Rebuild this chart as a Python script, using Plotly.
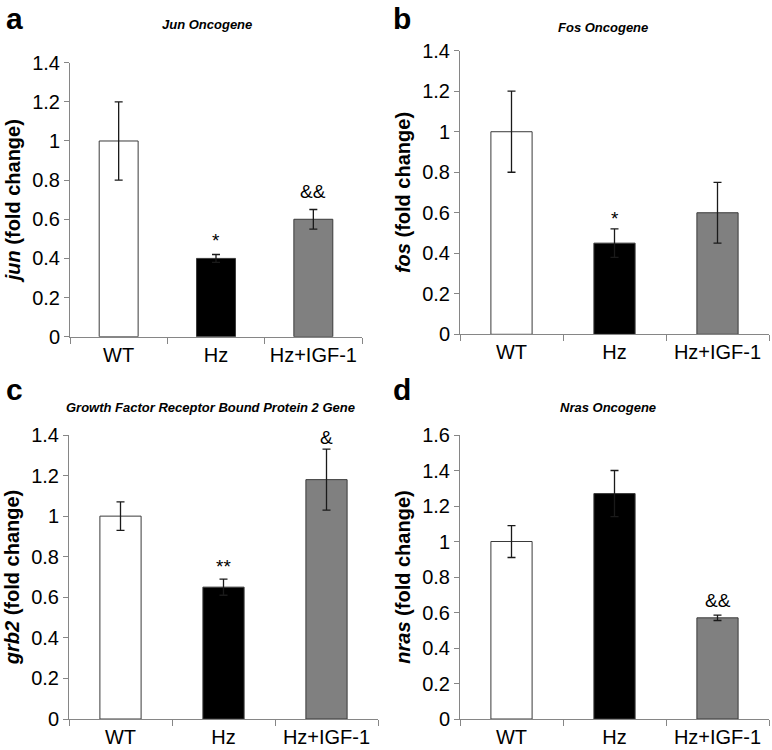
import plotly.graph_objects as go
from plotly.subplots import make_subplots

categories = ["WT", "Hz", "Hz+IGF-1"]
bar_colors = ["#ffffff", "#000000", "#808080"]

panel_letters = ["a", "b", "c", "d"]
panel_titles = ["Jun Oncogene", "Fos Oncogene",
                "Growth Factor Receptor Bound Protein 2 Gene", "Nras Oncogene"]
gene_names = ["jun", "fos", "grb2", "nras"]

jun_values = [1.0, 0.40, 0.60]
jun_errors = [0.20, 0.02, 0.05]
jun_marks = ["", "*", "&&"]
jun_mark_y = [None, 0.49, 0.74]

fos_values = [1.0, 0.45, 0.60]
fos_errors = [0.20, 0.07, 0.15]
fos_marks = ["", "*", ""]
fos_mark_y = [None, 0.57, None]

grb2_values = [1.0, 0.65, 1.18]
grb2_errors = [0.07, 0.04, 0.15]
grb2_marks = ["", "**", "&"]
grb2_mark_y = [None, 0.75, 1.39]

nras_values = [1.0, 1.27, 0.57]
nras_errors = [0.09, 0.13, 0.015]
nras_marks = ["", "", "&&"]
nras_mark_y = [None, None, 0.67]

y_max = [1.4, 1.4, 1.4, 1.6]

values = [jun_values, fos_values, grb2_values, nras_values]
errors = [jun_errors, fos_errors, grb2_errors, nras_errors]
marks = [jun_marks, fos_marks, grb2_marks, nras_marks]
mark_y = [jun_mark_y, fos_mark_y, grb2_mark_y, nras_mark_y]

W, H = 772, 750
# plot-area pixel boxes (left, right, top, bottom)
boxes = [(70, 362, 62.7, 336.7), (460, 769, 50.7, 334.3),
         (69, 378, 435, 719), (460, 769, 435, 719)]
title_pos = [(207, 24), (603, 28), (210, 407), (608, 407)]
# letter box top-left positions
letter_pos = [(4, 0), (391, 0), (4, 371), (391, 371)]

FONT = "Liberation Sans, Arial, sans-serif"
AXIS_COL = "#868686"

fig = make_subplots(rows=2, cols=2)
annotations = []
for i in range(4):
    r, c = i // 2 + 1, i % 2 + 1
    fig.add_trace(go.Bar(
        x=categories, y=values[i], width=0.4,
        marker=dict(color=bar_colors, line=dict(color="#3a3a3a", width=1)),
        error_y=dict(type="data", array=errors[i], color="#1a1a1a",
                     thickness=1.3, width=4),
        showlegend=False), row=r, col=c)
    l, rr, t, b = boxes[i]
    xa = "xaxis" if i == 0 else f"xaxis{i+1}"
    ya = "yaxis" if i == 0 else f"yaxis{i+1}"
    fig.layout[xa].update(domain=[l / W, rr / W])
    fig.layout[ya].update(domain=[1 - b / H, 1 - t / H])
    fig.update_xaxes(row=r, col=c, showline=True, linecolor=AXIS_COL, linewidth=1,
                     ticks="outside", tickson="boundaries", ticklen=6,
                     tickcolor=AXIS_COL, showgrid=False, automargin=False,
                     tickfont=dict(family=FONT, size=20, color="#000"),
                     range=[-0.5, 2.5])
    fig.update_yaxes(row=r, col=c, showline=True, linecolor=AXIS_COL, linewidth=1,
                     ticks="outside", ticklen=5, tickcolor=AXIS_COL,
                     showgrid=False, zeroline=False, automargin=False,
                     range=[0, y_max[i]], dtick=0.2, tickformat="~g",
                     tickfont=dict(family=FONT, size=20, color="#000"),
                     title=dict(text=f"<b><i>{gene_names[i]}</i> (fold change)</b>",
                                font=dict(family=FONT, size=20, color="#000"),
                                standoff=6))
    xr = "x" if i == 0 else f"x{i+1}"
    yr = "y" if i == 0 else f"y{i+1}"
    for j, m in enumerate(marks[i]):
        if m:
            annotations.append(dict(x=categories[j], y=mark_y[i][j], xref=xr, yref=yr,
                                    text=m, showarrow=False,
                                    font=dict(family=FONT, size=19, color="#000")))
    tx, ty = title_pos[i]
    annotations.append(dict(x=tx / W, y=1 - ty / H, xref="paper", yref="paper",
                            text=f"<b><i>{panel_titles[i]}</i></b>", showarrow=False,
                            xanchor="center", yanchor="middle",
                            font=dict(family=FONT, size=13, color="#000")))
    lx, ly = letter_pos[i]
    annotations.append(dict(x=lx / W, y=1 - ly / H, xref="paper", yref="paper",
                            text=f"<b>{panel_letters[i]}</b>", showarrow=False,
                            xanchor="left", yanchor="top",
                            font=dict(family=FONT, size=30, color="#000")))

fig.update_layout(width=W, height=H, margin=dict(l=0, r=0, t=0, b=0, autoexpand=False),
                  paper_bgcolor="white", plot_bgcolor="white",
                  annotations=annotations, bargap=0.6)
fig.write_html("out.html", config={"displayModeBar": False},
               post_script="document.body.style.margin='0';document.body.style.padding='0';")
